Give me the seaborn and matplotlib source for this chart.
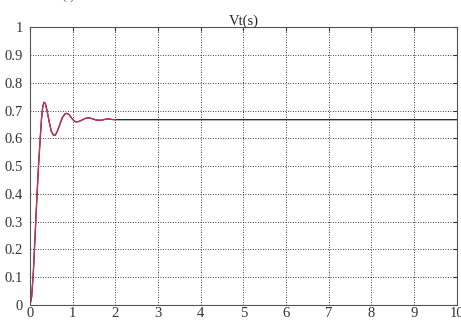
import matplotlib
matplotlib.use("Agg")
import matplotlib.pyplot as plt
import seaborn as sns
import pandas as pd

# Step response samples
t_red = [0, 0.04, 0.08, 0.12, 0.16, 0.20, 0.24, 0.27, 0.30, 0.33, 0.36, 0.40, 0.45,
         0.50, 0.55, 0.59, 0.64, 0.70, 0.76, 0.82, 0.86, 0.92, 0.98, 1.04, 1.09,
         1.15, 1.22, 1.30, 1.37, 1.45, 1.55, 1.65, 1.75, 1.83, 1.92, 2.0]
y_red = [0, 0.03, 0.12, 0.25, 0.38, 0.50, 0.60, 0.67, 0.715, 0.73, 0.725, 0.70, 0.66,
         0.625, 0.612, 0.611, 0.625, 0.65, 0.675, 0.688, 0.69, 0.685, 0.672, 0.662, 0.659,
         0.661, 0.666, 0.672, 0.674, 0.671, 0.666, 0.665, 0.668, 0.670, 0.668, 0.667]
t_black = t_red + [10.0]
y_black = y_red + [0.667]

title = "Vt(s)"
x_ticks = list(range(0, 11))
y_ticks = [0, 0.1, 0.2, 0.3, 0.4, 0.5, 0.6, 0.7, 0.8, 0.9, 1]
y_labels = ["0", "0.1", "0.2", "0.3", "0.4", "0.5", "0.6", "0.7", "0.8", "0.9", "1"]

sns.set_style("white")
plt.rcParams['font.family'] = ['Liberation Serif', 'DejaVu Serif']

fig = plt.figure(figsize=(4.61, 3.23), dpi=100)
ax = fig.add_axes([0.065, 0.0557, 0.926, 0.860])

df_b = pd.DataFrame({"t": t_black, "y": y_black})
df_r = pd.DataFrame({"t": t_red, "y": y_red})
sns.lineplot(data=df_b, x="t", y="y", ax=ax, color="black", linewidth=0.8, sort=False)
sns.lineplot(data=df_r, x="t", y="y", ax=ax, color="#c8334f", linewidth=1.0, sort=False)

ax.set_xlim(0, 10)
ax.set_ylim(0, 1)
ax.set_xticks(x_ticks)
ax.set_yticks(y_ticks)
ax.set_yticklabels(y_labels)
ax.set_xlabel("")
ax.set_ylabel("")
ax.grid(True, color="black", linestyle=(0, (1, 2)), linewidth=0.6)
ax.tick_params(direction="in", length=3, labelsize=10.5, top=True, right=True,
               colors="#333333")
ax.tick_params(axis="x", pad=1.5)
ax.tick_params(axis="y", pad=5)
for s in ax.spines.values():
    s.set_color("#555555")
    s.set_linewidth(0.8)
ax.set_title(title, fontsize=10.5, pad=2)
fig.text(0.135, 1.005, "( )", fontsize=10, color="#555555")

fig.savefig("out.png", dpi=100)
